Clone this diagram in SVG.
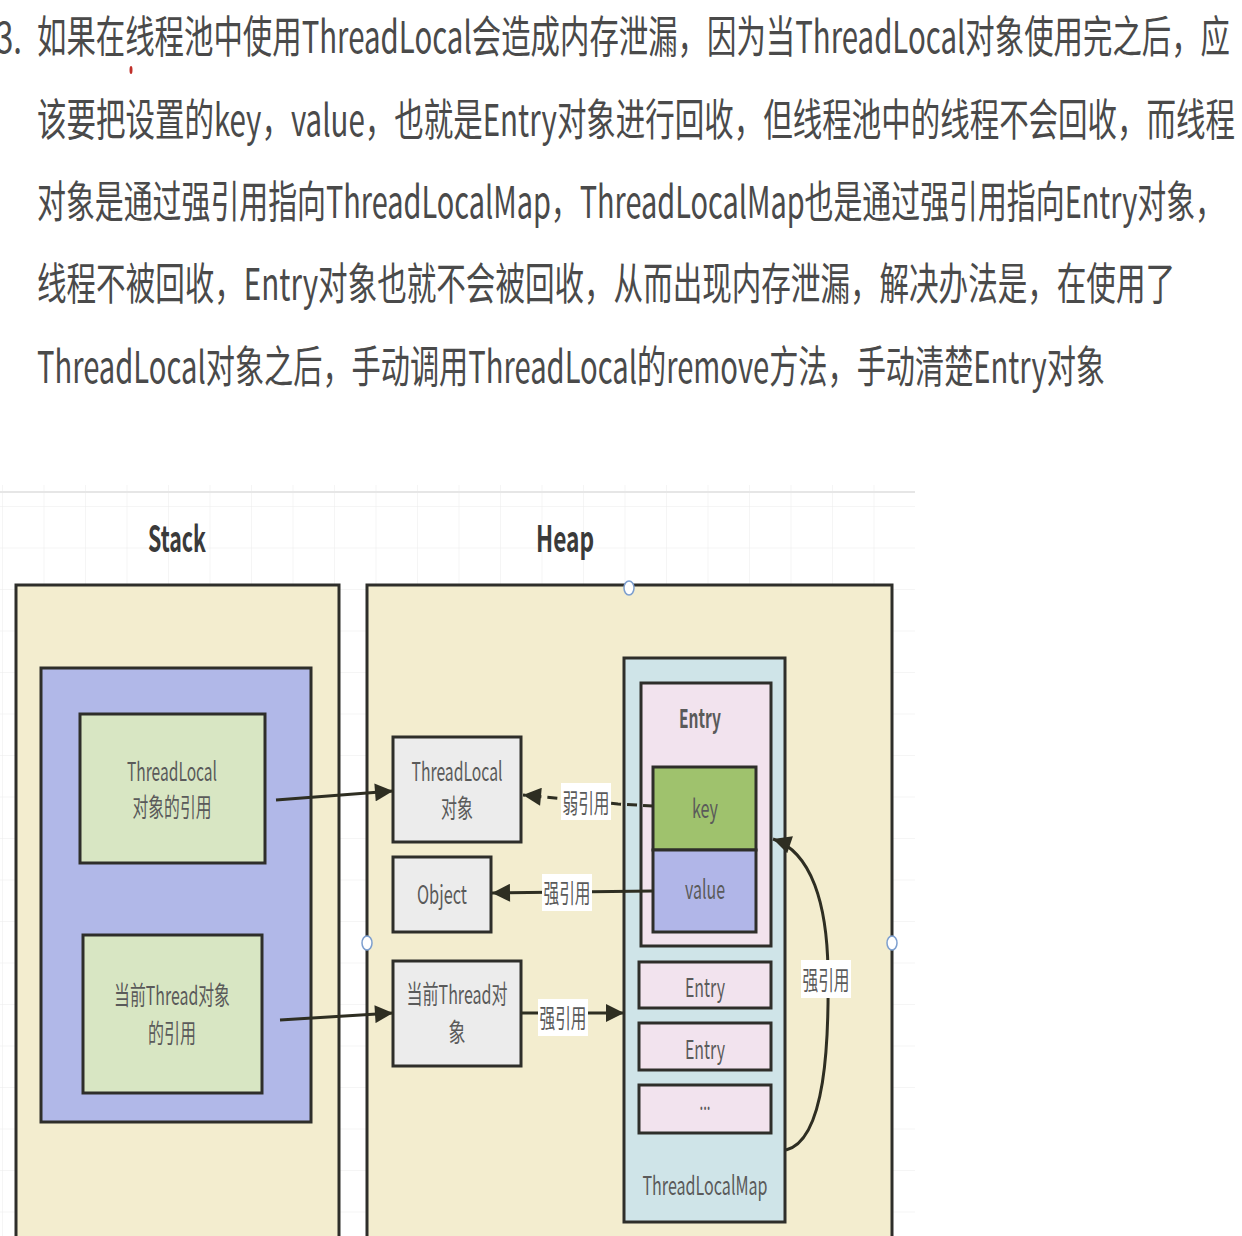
<svg xmlns="http://www.w3.org/2000/svg" width="1242" height="1236" viewBox="0 0 1242 1236">
<defs>
<style>
.p{font-family:"Noto Sans CJK SC","Noto Sans",sans-serif;font-size:44px;fill:#4a4a4a;}
.t{font-family:"Noto Sans CJK SC","Open Sans",sans-serif;font-size:26px;fill:#5a5a5a;text-anchor:middle;}
.h{font-family:"Noto Sans CJK SC","Open Sans",sans-serif;font-size:36px;font-weight:bold;fill:#3a3a3a;text-anchor:middle;}
.b{stroke:#2e2e2a;stroke-width:3;}
.c{stroke:#2e2e22;stroke-width:3;fill:none;}
.lb{fill:#ffffff;}
.hd{fill:#ffffff;stroke:#7d9fcf;stroke-width:1.5;}
</style>
<marker id="ah" viewBox="0 0 10 10" refX="10" refY="5" markerWidth="20" markerHeight="18" markerUnits="userSpaceOnUse" orient="auto"><path d="M0,0 L10,5 L0,10 z" fill="#2e2e22"/></marker>
<pattern id="grid" width="41.5" height="41.5" patternUnits="userSpaceOnUse" x="3" y="9"><path d="M41.5 0 V41.5 M0 41.5 H41.5" stroke="#ececec" stroke-width="1" fill="none"/></pattern>
</defs>
<rect width="1242" height="1236" fill="#ffffff"/>

<g id="paragraph">
<text class="p" x="-4" y="53" textLength="26" lengthAdjust="spacingAndGlyphs">3.</text>
<text class="p" x="37" y="53" textLength="1193" lengthAdjust="spacingAndGlyphs">如果在线程池中使用ThreadLocal会造成内存泄漏，因为当ThreadLocal对象使用完之后，应</text>
<text class="p" x="37" y="136" textLength="1198" lengthAdjust="spacingAndGlyphs">该要把设置的key，value，也就是Entry对象进行回收，但线程池中的线程不会回收，而线程</text>
<text class="p" x="37" y="218" textLength="1187" lengthAdjust="spacingAndGlyphs">对象是通过强引用指向ThreadLocalMap，ThreadLocalMap也是通过强引用指向Entry对象，</text>
<text class="p" x="37" y="300" textLength="1138" lengthAdjust="spacingAndGlyphs">线程不被回收，Entry对象也就不会被回收，从而出现内存泄漏，解决办法是，在使用了</text>
<text class="p" x="37" y="383" textLength="1068" lengthAdjust="spacingAndGlyphs">ThreadLocal对象之后，手动调用ThreadLocal的remove方法，手动清楚Entry对象</text>
<ellipse cx="131" cy="70" rx="1.5" ry="4" fill="#c0302a"/>
</g>

<rect x="0" y="485" width="915" height="751" fill="url(#grid)"/>
<line x1="0" y1="492" x2="915" y2="492" stroke="#e6e6e6" stroke-width="2"/>

<g id="stack-title"><text class="h" x="177" y="552" textLength="58" lengthAdjust="spacingAndGlyphs">Stack</text></g>
<g id="heap-title"><text class="h" x="565" y="552" textLength="58" lengthAdjust="spacingAndGlyphs">Heap</text></g>

<g id="stack"><rect class="b" x="16" y="585" width="323" height="670" fill="#f3edcf"/></g>
<g id="heap"><rect class="b" x="367" y="585" width="525" height="670" fill="#f3edcf"/></g>

<g id="thread"><rect class="b" x="41" y="668" width="270" height="454" fill="#b1b8e8"/></g>

<g id="tl-ref">
<rect class="b" x="80" y="714" width="185" height="149" fill="#d8e6c3"/>
<text class="t" x="172" y="781" textLength="90" lengthAdjust="spacingAndGlyphs">ThreadLocal</text>
<text class="t" x="172" y="817" textLength="79" lengthAdjust="spacingAndGlyphs">对象的引用</text>
</g>
<g id="thread-ref">
<rect class="b" x="83" y="935" width="179" height="158" fill="#d8e6c3"/>
<text class="t" x="172" y="1005" textLength="116" lengthAdjust="spacingAndGlyphs">当前Thread对象</text>
<text class="t" x="172" y="1043" textLength="48" lengthAdjust="spacingAndGlyphs">的引用</text>
</g>

<g id="tl-obj">
<rect class="b" x="393" y="737" width="128" height="105" fill="#ececec"/>
<text class="t" x="457" y="781" textLength="91" lengthAdjust="spacingAndGlyphs">ThreadLocal</text>
<text class="t" x="457" y="818" textLength="32" lengthAdjust="spacingAndGlyphs">对象</text>
</g>
<g id="object">
<rect class="b" x="393" y="857" width="98" height="75" fill="#ececec"/>
<text class="t" x="442" y="904" textLength="50" lengthAdjust="spacingAndGlyphs">Object</text>
</g>
<g id="thread-obj">
<rect class="b" x="393" y="961" width="128" height="105" fill="#ececec"/>
<text class="t" x="457" y="1004" textLength="101" lengthAdjust="spacingAndGlyphs">当前Thread对</text>
<text class="t" x="457" y="1042" textLength="17" lengthAdjust="spacingAndGlyphs">象</text>
</g>

<g id="map">
<rect class="b" x="624" y="658" width="161" height="564" fill="#cfe4e8"/>
<text class="t" x="705" y="1195" textLength="125" lengthAdjust="spacingAndGlyphs">ThreadLocalMap</text>
</g>
<g id="entry1">
<rect class="b" x="641" y="683" width="130" height="263" fill="#f2e3ee"/>
<text class="t" x="700" y="728" font-weight="bold" fill="#444" textLength="42" lengthAdjust="spacingAndGlyphs">Entry</text>
</g>
<g id="key">
<rect class="b" x="653" y="767" width="103" height="83" fill="#9fc26d"/>
<text class="t" x="705" y="818" textLength="26" lengthAdjust="spacingAndGlyphs">key</text>
</g>
<g id="value">
<rect class="b" x="653" y="850" width="103" height="82" fill="#b1b6e8"/>
<text class="t" x="705" y="899" textLength="40" lengthAdjust="spacingAndGlyphs">value</text>
</g>
<g id="entry2">
<rect class="b" x="639" y="962" width="132" height="46" fill="#f2e3ee"/>
<text class="t" x="705" y="997" textLength="40" lengthAdjust="spacingAndGlyphs">Entry</text>
</g>
<g id="entry3">
<rect class="b" x="639" y="1023" width="132" height="47" fill="#f2e3ee"/>
<text class="t" x="705" y="1059" textLength="40" lengthAdjust="spacingAndGlyphs">Entry</text>
</g>
<g id="entry-more">
<rect class="b" x="639" y="1085" width="132" height="48" fill="#f2e3ee"/>
<text class="t" x="705" y="1110" font-size="14px" textLength="11" lengthAdjust="spacingAndGlyphs">...</text>
</g>

<g id="connectors">
<line class="c" x1="276" y1="800" x2="393" y2="791" marker-end="url(#ah)"/>
<line class="c" x1="280" y1="1020" x2="393" y2="1013" marker-end="url(#ah)"/>
<path class="c" d="M653,806 L618,804 L523,795" stroke-dasharray="10 6" marker-end="url(#ah)"/>
<rect class="lb" x="561" y="783" width="50" height="37"/>
<text class="t" x="586" y="813" textLength="47" lengthAdjust="spacingAndGlyphs">弱引用</text>
<line class="c" x1="653" y1="891" x2="492" y2="893" marker-end="url(#ah)"/>
<rect class="lb" x="542" y="874" width="50" height="37"/>
<text class="t" x="567" y="903" textLength="47" lengthAdjust="spacingAndGlyphs">强引用</text>
<line class="c" x1="521" y1="1013" x2="624" y2="1013" marker-end="url(#ah)"/>
<rect class="lb" x="538" y="999" width="50" height="37"/>
<text class="t" x="563" y="1028" textLength="47" lengthAdjust="spacingAndGlyphs">强引用</text>
<path class="c" d="M786,1150 C826,1140 829,1040 828,970 C827,905 812,852 773,839" marker-end="url(#ah)"/>
<rect class="lb" x="801" y="960" width="50" height="38"/>
<text class="t" x="826" y="990" textLength="47" lengthAdjust="spacingAndGlyphs">强引用</text>
</g>

<g id="handles">
<ellipse class="hd" cx="629" cy="588" rx="5" ry="7"/>
<ellipse class="hd" cx="367" cy="943" rx="5" ry="7"/>
<ellipse class="hd" cx="892" cy="943" rx="5" ry="7"/>
</g>
</svg>
